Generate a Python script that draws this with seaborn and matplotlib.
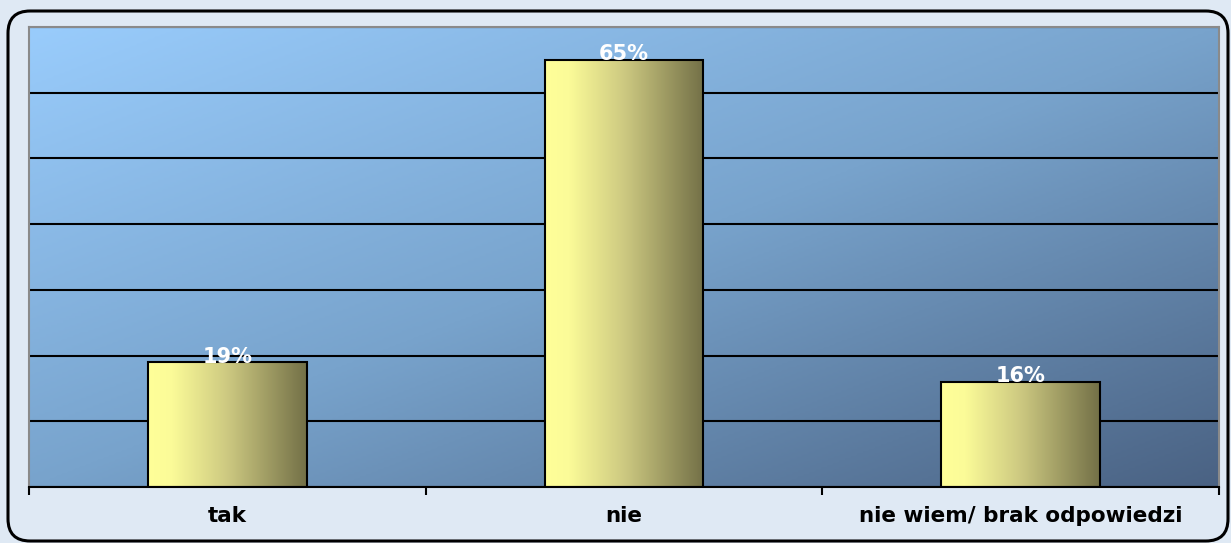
import numpy as np
import pandas as pd
import seaborn as sns
import matplotlib.pyplot as plt
from matplotlib.colors import LinearSegmentedColormap
from matplotlib.patches import FancyBboxPatch

# dane z wykresu
kategorie = ['tak', 'nie', 'nie wiem/ brak odpowiedzi']
wartosci = [19, 65, 16]
etykiety = ['19%', '65%', '16%']

df = pd.DataFrame({'odp': kategorie, 'proc': wartosci})

sns.set_theme(style='white')
plt.rcParams['font.family'] = ['DejaVu Sans']

fig = plt.figure(figsize=(12.31, 5.43), dpi=100)
fig.patch.set_facecolor('#dfe9f4')

# zaokrąglona ramka wokół całego wykresu
ramka = FancyBboxPatch((8 / 1231, 2 / 543), 1220 / 1231, 530 / 543,
                       boxstyle='round,pad=0,rounding_size=0.018',
                       transform=fig.transFigure, facecolor='none',
                       edgecolor='black', linewidth=2.2, mutation_aspect=1231 / 543)
fig.patches.append(ramka)

ax = fig.add_axes([29 / 1231, 1 - 487 / 543, 1190 / 1231, 460 / 543])

sns.barplot(data=df, x='odp', y='proc', ax=ax, width=0.4,
            color='#ffff99', edgecolor='black', linewidth=1.5, zorder=3)

ax.set_xlim(-0.5, 2.5)

# tło obszaru wykresu - gradient po przekątnej
yy, xx = np.mgrid[0:1:200j, 0:1:400j]
t = (xx * 0.5 + (1 - yy) * 0.5)
tlo_cmap = LinearSegmentedColormap.from_list('tlo', ['#99ccfc', '#78a3cc', '#4a6283'])
ax.imshow(t, cmap=tlo_cmap, extent=[-0.5, 2.5, 70, 0], aspect='auto',
          origin='upper', zorder=0, interpolation='bilinear')
ax.set_ylim(0, 70)

# gradient na słupkach
slupek_cmap = LinearSegmentedColormap.from_list(
    'slupek', [(0, '#ffff99'), (0.15, '#fbfb98'), (0.5, '#cdc981'), (1, '#737047')])
grad = np.linspace(0, 1, 256).reshape(1, -1)
for bar in ax.patches:
    x0, w, h = bar.get_x(), bar.get_width(), bar.get_height()
    im = ax.imshow(grad, cmap=slupek_cmap, extent=[x0, x0 + w, 0, h],
                   aspect='auto', zorder=3.5, interpolation='bilinear')
    im.set_clip_path(bar)
    bar.set_facecolor('none')
    bar.set_zorder(4)

# linie siatki
ax.set_yticks(range(0, 71, 10))
ax.yaxis.grid(True, color='black', linewidth=1.5, zorder=1)
ax.set_axisbelow(True)
ax.tick_params(axis='y', left=False, labelleft=False)

# oś X: etykiety kategorii + kreski na granicach
ax.set_xticks(range(len(kategorie)))
ax.set_xticklabels(kategorie, fontsize=15.5, fontweight='bold', color='black')
ax.set_xticks([-0.5, 0.5, 1.5, 2.5], minor=True)
ax.tick_params(axis='x', which='major', length=0, pad=14)
ax.tick_params(axis='x', which='minor', length=6, width=1.5, color='black',
               direction='out', bottom=True)
ax.set_xlabel('')
ax.set_ylabel('')

for s in ['top', 'right', 'left']:
    ax.spines[s].set_color('#8a8a8a')
    ax.spines[s].set_linewidth(1.5)
ax.spines['bottom'].set_color('black')
ax.spines['bottom'].set_linewidth(1.5)
for s in ax.spines.values():
    s.set_zorder(5)

# etykiety wartości
for i, (v, lab) in enumerate(zip(wartosci, etykiety)):
    ax.text(i, v - 0.7, lab, ha='center', va='bottom', color='white',
            fontsize=15, fontweight='bold', zorder=6)

fig.savefig('out.png', dpi=100, facecolor=fig.get_facecolor())
